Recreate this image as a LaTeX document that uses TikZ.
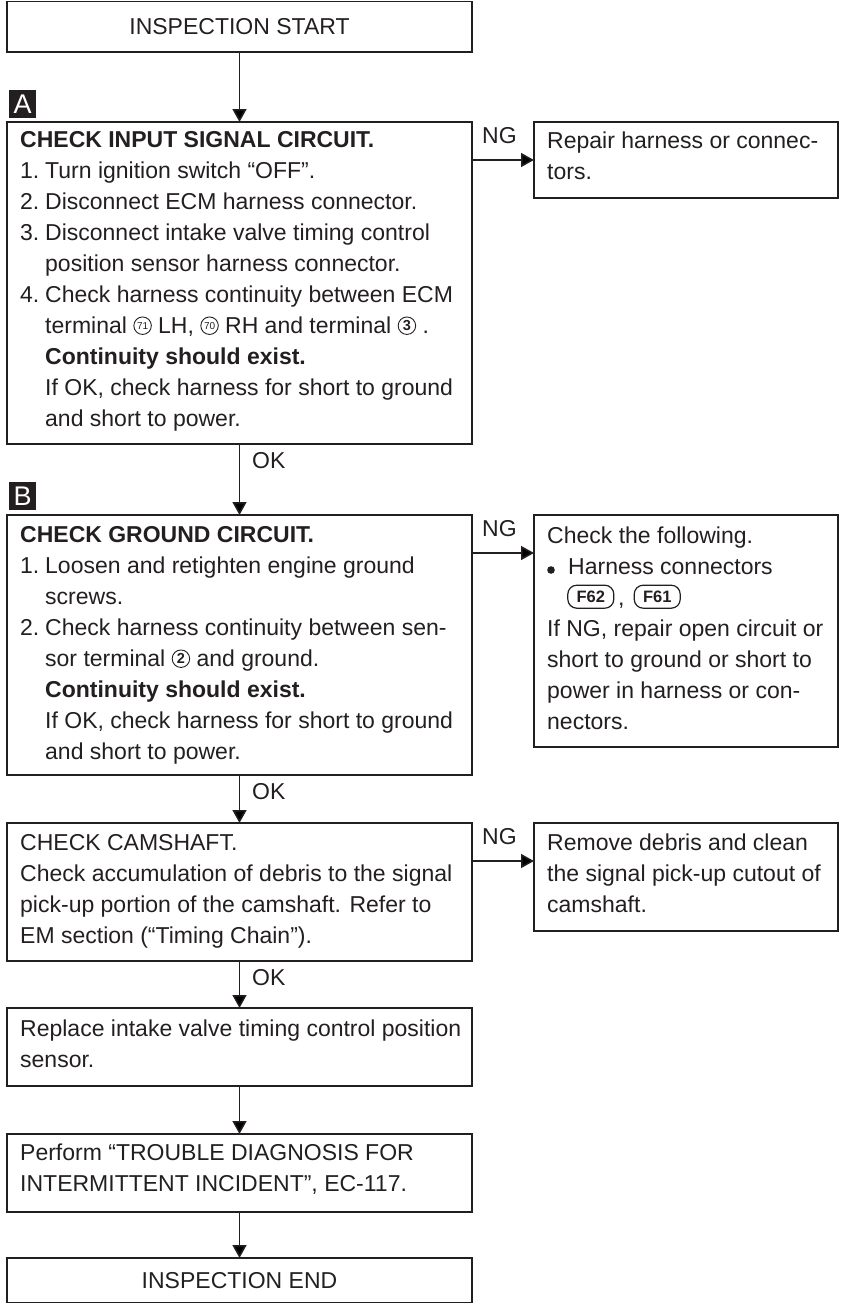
\documentclass[tikz,border=0pt]{standalone}
\usepackage{fontspec}
\setmainfont{Liberation Sans}
\usetikzlibrary{arrows.meta}
\definecolor{ink}{HTML}{231F20}
\newcommand\fs{\fontsize{23}{31}\selectfont}
\newcommand\itm[1]{\makebox[25pt][l]{#1}}
\newcommand\hind{\hspace*{25pt}}
\newcommand\cnum[2]{\tikz[baseline={(0pt,-7.5pt)}]\node[anchor=center,circle,draw=ink,line width=0.9pt,minimum size=17.5pt,inner sep=0pt,text=ink,font=#1] (cn) at (0pt,0pt) {#2};}
\newcommand\conn[1]{\tikz[baseline={(0pt,-8.5pt)}]\node[anchor=center,draw=ink,rounded corners=9pt,line width=1.2pt,minimum width=46pt,minimum height=23pt,inner sep=0pt,text=ink,font=\bfseries\fontsize{16.5}{16.5}\selectfont] (cc) at (0pt,0pt) {#1};}
\newcommand\bigdot{\tikz[baseline={(0pt,0pt)}]\fill[ink] (3.8pt,4.2pt) circle[radius=3.8pt];}
\begin{document}
\begin{tikzpicture}[x=1pt,y=-1pt,
 box/.style={draw=ink, line width=1.6pt, anchor=north west, inner sep=0pt, outer sep=0pt},
 cbox/.style={box, text=ink, font=\fs},
 txt/.style={anchor=north west, inner sep=0pt, align=left, text=ink, font=\fs},
 arr/.style={draw=ink, line width=1.5pt, -{Triangle[width=14pt,length=13pt]}},
 lbl/.style={anchor=west, inner sep=0pt, text=ink, font=\fs},
 tag/.style={fill=ink, text=white, minimum width=27pt, minimum height=28pt, inner sep=0pt, anchor=north west, font=\fontsize{27}{27}\selectfont}]
\useasboundingbox (0,0) rectangle (845,1304);

% left column boxes
\node[cbox, minimum width=465pt, minimum height=50.5pt] (start) at (7,1.5) {INSPECTION START};
\node[box, minimum width=465pt, minimum height=322pt] (a) at (7,122) {};
\node[box, minimum width=465pt, minimum height=260pt] (b) at (7,515) {};
\node[box, minimum width=465pt, minimum height=138pt] (c) at (7,823) {};
\node[box, minimum width=465pt, minimum height=78pt] (d) at (7,1008) {};
\node[box, minimum width=465pt, minimum height=78pt] (e) at (7,1134) {};
\node[cbox, minimum width=465pt, minimum height=44.5pt] (end) at (7,1258) {INSPECTION END};

% right column boxes
\node[box, minimum width=304pt, minimum height=76pt] (ra) at (534,122) {};
\node[box, minimum width=304pt, minimum height=232pt] (rb) at (534,515) {};
\node[box, minimum width=304pt, minimum height=108pt] (rc) at (534,823) {};

% tags
\node[tag] (tA) at (9,90) {A};
\node[tag] (tB) at (9,482) {B};

% texts
\node[txt] (ta) at ([xshift=13pt]a.north west) {\rule{0pt}{25pt}\textbf{CHECK INPUT SIGNAL CIRCUIT.}\\
\itm{1.}Turn ignition switch “OFF”.\\
\itm{2.}Disconnect ECM harness connector.\\
\itm{3.}Disconnect intake valve timing control\\
\hind position sensor harness connector.\\
\itm{4.}Check harness continuity between ECM\\
\hind terminal \cnum{\fontsize{10}{10}\selectfont}{71} LH, \cnum{\fontsize{10}{10}\selectfont}{70} RH and terminal \cnum{\bfseries\fontsize{14.5}{14.5}\selectfont}{3} .\\
\hind\textbf{Continuity should exist.}\\
\hind If OK, check harness for short to ground\\
\hind and short to power.};

\node[txt] (tb) at ([xshift=13pt]b.north west) {\rule{0pt}{27pt}\textbf{CHECK GROUND CIRCUIT.}\\
\itm{1.}Loosen and retighten engine ground\\
\hind screws.\\
\itm{2.}Check harness continuity between sen-\\
\hind sor terminal \cnum{\bfseries\fontsize{14.5}{14.5}\selectfont}{2} and ground.\\
\hind\textbf{Continuity should exist.}\\
\hind If OK, check harness for short to ground\\
\hind and short to power.};

\node[txt] (tc) at ([xshift=13pt]c.north west) {\rule{0pt}{27pt}CHECK CAMSHAFT.\\
Check accumulation of debris to the signal\\
pick-up portion of the camshaft. Refer to\\
EM section (“Timing Chain”).};

\node[txt] (td) at ([xshift=13pt]d.north west) {\rule{0pt}{28pt}Replace intake valve timing control position\\
sensor.};

\node[txt] (te) at ([xshift=13pt]e.north west) {\rule{0pt}{26pt}Perform “TROUBLE DIAGNOSIS FOR\\
INTERMITTENT INCIDENT”, EC-117.};

\node[txt] (tra) at ([xshift=13pt]ra.north west) {\rule{0pt}{26pt}Repair harness or connec-\\
tors.};

\node[txt] (trb) at ([xshift=13pt]rb.north west) {\rule{0pt}{28pt}Check the following.\\
\makebox[21pt][l]{\bigdot}Harness connectors\\
\hspace*{20pt}\conn{F62}\,,\hspace{9pt}\conn{F61}\\
If NG, repair open circuit or\\
short to ground or short to\\
power in harness or con-\\
nectors.};

\node[txt] (trc) at ([xshift=13pt]rc.north west) {\rule{0pt}{27pt}Remove debris and clean\\
the signal pick-up cutout of\\
camshaft.};

% vertical connectors
\draw[arr] (start.south) -- (a.north);
\draw[arr] (a.south) -- (b.north);
\draw[arr] (b.south) -- (c.north);
\draw[arr] (c.south) -- (d.north);
\draw[arr] (d.south) -- (e.north);
\draw[arr] (e.south) -- (end.north);

% NG connectors
\draw[arr] ([yshift=-38pt]a.north east) -- ([yshift=-38pt]ra.north west);
\draw[arr] ([yshift=-38pt]b.north east) -- ([yshift=-38pt]rb.north west);
\draw[arr] ([yshift=-38pt]c.north east) -- ([yshift=-38pt]rc.north west);

% labels
\node[lbl] (ngA) at ([xshift=10pt,yshift=-14pt]a.north east) {NG};
\node[lbl] (ngB) at ([xshift=10pt,yshift=-14pt]b.north east) {NG};
\node[lbl] (ngC) at ([xshift=10pt,yshift=-14pt]c.north east) {NG};
\node[lbl] (okA) at ([xshift=12.5pt,yshift=-17pt]a.south) {OK};
\node[lbl] (okB) at ([xshift=12.5pt,yshift=-17pt]b.south) {OK};
\node[lbl] (okC) at ([xshift=12.5pt,yshift=-17pt]c.south) {OK};
\end{tikzpicture}
\end{document}
